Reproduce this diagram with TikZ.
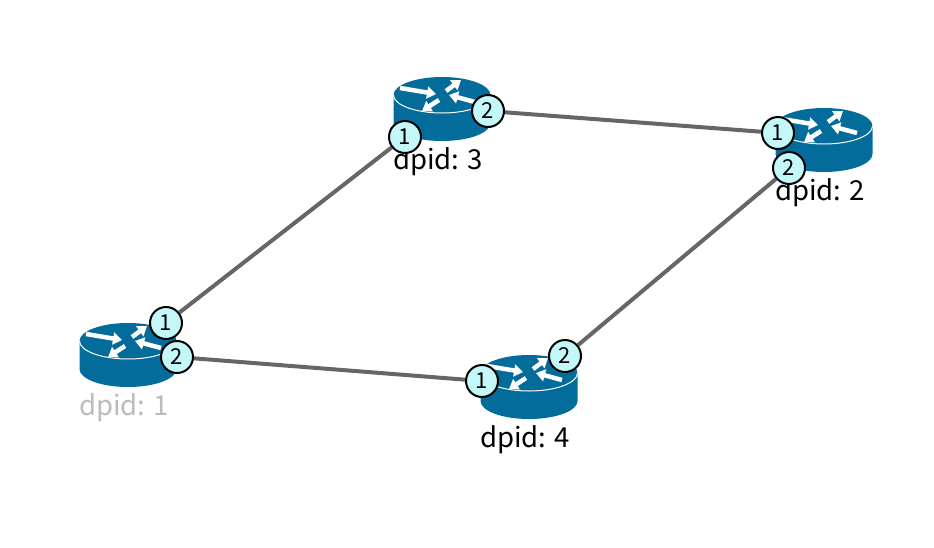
\documentclass[tikz,border=0pt]{standalone}
\usepackage{fontspec}
\setmainfont{Noto Sans CJK SC}
\usepackage{tikz}
\usetikzlibrary{arrows.meta, backgrounds}
\definecolor{routerblue}{HTML}{036C9B}
\definecolor{portcyan}{HTML}{C4F8F8}
\definecolor{linkgray}{HTML}{666666}
\definecolor{offgray}{HTML}{BBBBBB}

\begin{document}
\begin{tikzpicture}[
  x=1pt, y=-1pt,
  port/.style={
    circle, draw=black, fill=portcyan, line width=2pt, minimum size=32pt,
    inner sep=0pt, font=\fontsize{22}{22}\selectfont,
  },
  dpid/.style={font=\fontsize{27.5}{27.5}\selectfont, inner sep=0pt, anchor=base},
  link/.style={line width=4pt, linkgray},
  flow/.style={-{Triangle[length=9pt, width=12pt]}, line width=4.5pt, white},
  router/.pic={
    \fill[routerblue] (-48.5,-14) -- (-48.5,14) arc[start angle=180, end angle=0, x radius=48.5, y radius=18]
      -- (48.5,-14) arc[start angle=0, end angle=-180, x radius=48.5, y radius=18] -- cycle;
    \draw[white, line width=1pt] (-48.5,-14) arc[start angle=180, end angle=0, x radius=48.5, y radius=18];
    \draw[flow] (-42,-21) -- (-6,-15);
    \draw[flow] (4,-18) -- (19,-29);
    \draw[flow] (33,-7) -- (7,-14);
    \draw[flow] (-3,-9) -- (-20,2);
  },
]
  \useasboundingbox (0,0) rectangle (934,547);

  % routers
  \pic (r3) at (442,109) {router};
  \pic (r2) at (824,140) {router};
  \pic (r1) at (128,355) {router};
  \pic (r4) at (529,387) {router};

  % labels
  \node[dpid] (l3) at (438,169) {dpid: 3};
  \node[dpid] (l2) at (820,200) {dpid: 2};
  \node[dpid, text=offgray] (l1) at (124,415) {dpid: 1};
  \node[dpid] (l4) at (525,447) {dpid: 4};

  % ports
  \node[port] (p31) at (405,137) {1};
  \node[port] (p32) at (488,111) {2};
  \node[port] (p21) at (778,133) {1};
  \node[port] (p22) at (789,168) {2};
  \node[port] (p11) at (166,323) {1};
  \node[port] (p12) at (177,357) {2};
  \node[port] (p41) at (482,381) {1};
  \node[port] (p42) at (565,356) {2};

  % links
  \begin{scope}[on background layer]
    \draw[link] (p11) -- (p31);
    \draw[link] (p32) -- (p21);
    \draw[link] (p12) -- (p41);
    \draw[link] (p42) -- (p22);
  \end{scope}
\end{tikzpicture}
\end{document}
